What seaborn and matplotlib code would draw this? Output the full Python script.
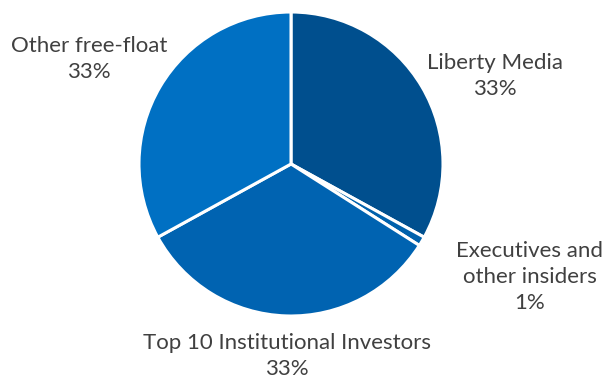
import matplotlib
matplotlib.use("Agg")
import matplotlib.pyplot as plt
import seaborn as sns

# Shareholder structure
holders = ["Liberty Media", "Executives and\nother insiders",
           "Top 10 Institutional Investors", "Other free-float"]
shares = [33, 1, 33, 33]
slice_colors = ["#004F8E", "#0061AC", "#0063B1", "#0070C3"]

# label anchor points (pixel coordinates of text centre) for each holder
label_px = [(495, 76), (530, 277), (287, 356), (89, 59)]

sns.set_theme(style="white")
plt.rcParams["font.family"] = ["Lato", "DejaVu Sans"]

W, H = 603, 381
fig = plt.figure(figsize=(W / 100, H / 100), dpi=100)
cx, cy, r = 291, 164, 152
ax = fig.add_axes([(cx - r) / W, (H - cy - r) / H, 2 * r / W, 2 * r / H])
ax.pie(shares, colors=slice_colors, startangle=90, counterclock=False,
       radius=1.0, wedgeprops=dict(edgecolor="white", linewidth=2.2))
ax.set_xlim(-1, 1)
ax.set_ylim(-1, 1)
ax.set_aspect("auto")
ax.axis("off")

for name, val, (px, py) in zip(holders, shares, label_px):
    x = (px - cx) / r
    y = (cy - py) / r
    ax.text(x, y, f"{name}\n{val:.0f}%", ha="center", va="center",
            fontsize=16, color="#404040", linespacing=1.4, clip_on=False)

fig.savefig("out.png", dpi=100)
